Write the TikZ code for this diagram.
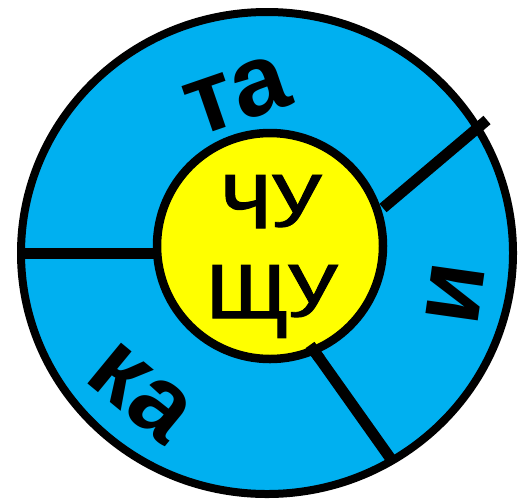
\documentclass[tikz,border=0pt]{standalone}
\usepackage{fontspec}
\usepackage{graphicx}
\setmainfont{Liberation Sans}
\usetikzlibrary{shapes.geometric,calc}
\definecolor{ringblue}{HTML}{00B0F0}
\definecolor{hubyellow}{HTML}{FFFF00}
\newcommand{\shorty}{\raisebox{0.155em}{\scalebox{1}[0.71]{у}}}
\begin{document}
\begin{tikzpicture}[x=1pt,y=-1pt,
  ring/.style={ellipse, draw=black, line width=8pt, fill=ringblue, minimum width=492pt, minimum height=482pt, inner sep=0pt, outer sep=0pt},
  hub/.style={circle, draw=black, line width=8.5pt, fill=hubyellow, minimum size=226pt, inner sep=0pt, outer sep=0pt},
  spoke/.style={draw=black, line width=11pt},
  outerlabel/.style={inner sep=0pt, font=\fontsize{100}{100}\selectfont\bfseries},
  hublabel/.style={inner sep=0pt, anchor=base, font=\fontsize{100}{100}\selectfont\addfontfeature{FakeBold=1}}]
\useasboundingbox (0,0) rectangle (518,499);
\node[ring] (outer) at (267,253) {};
\coordinate (l1) at (22,253);
\coordinate (l2) at (157,253);
\coordinate (r1) at (383,208);
\coordinate (r2) at (487,120);
\coordinate (b1) at (310,345);
\coordinate (b2) at (393,462);
\draw[spoke] (l1) -- (l2);
\draw[spoke] (r1) -- (r2);
\draw[spoke] (b1) -- (b2);
\node[hub] (inner) at (270,246) {};
\draw[spoke] (b1) -- ($(b1)!0.12!(b2)$);
\node[hublabel] (chu) at (271,228) {ч\shorty};
\node[hublabel] (shchu) at (272,318) {щ\shorty};
\node[outerlabel, rotate=19] (ta) at (237,95) {та};
\node[outerlabel, rotate=-98] (i) at (455,294) {и};
\node[outerlabel, rotate=-39.5] (ka) at (140,393) {ка};
\end{tikzpicture}
\end{document}
